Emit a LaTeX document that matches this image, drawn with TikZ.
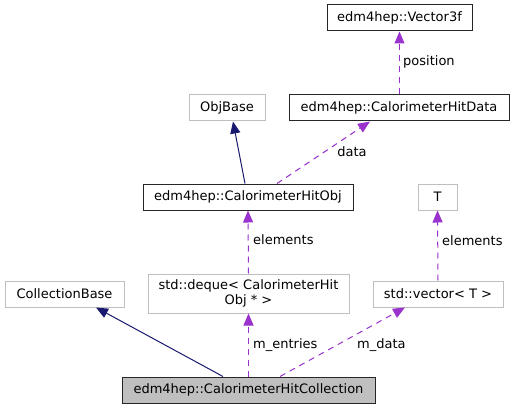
\documentclass[tikz,border=0pt]{standalone}
\usepackage{fontspec}
\setmainfont{DejaVu Sans}
\usetikzlibrary{arrows.meta}
\definecolor{edgenavy}{HTML}{191970}
\definecolor{edgepurple}{HTML}{9A32CD}
\definecolor{boxgray}{HTML}{BFBFBF}
\begin{document}
\begin{tikzpicture}[x=1pt, y=-1pt,
  every node/.style={font=\fontsize{13}{15.5}\selectfont, inner sep=0pt},
  cls/.style={draw=black!85, line width=1pt, minimum height=26pt},
  ext/.style={draw=boxgray, line width=1pt, minimum height=26pt},
  inherit/.style={draw=edgenavy, line width=1pt, -{Triangle[length=12pt,width=10pt]}},
  member/.style={draw=edgepurple, line width=1pt, dash pattern=on 6pt off 5pt,
    -{Triangle[length=12pt,width=10pt,fill=edgepurple]}},
  lbl/.style={anchor=west}]
\useasboundingbox (0,0) rectangle (514,409);

% --- classes ---
\node[cls, minimum width=145pt] (vec3f) at (399.5,18) {edm4hep::Vector3f};
\node[ext, minimum width=76pt] (objbase) at (227,108) {ObjBase};
\node[cls, minimum width=220pt] (hitdata) at (399,108) {edm4hep::CalorimeterHitData};
\node[cls, minimum width=210pt] (hitobj) at (248,197) {edm4hep::CalorimeterHitObj};
\node[ext, minimum width=39pt] (tparam) at (437.5,197) {T};
\node[ext, minimum width=119pt] (collbase) at (64.5,294) {CollectionBase};
\node[ext, minimum width=201pt, minimum height=39pt, align=center] (deque) at (248.5,293.5)
  {std::deque< CalorimeterHit\\Obj * >};
\node[ext, minimum width=130pt] (stdvec) at (438,294) {std::vector< T >};
\node[cls, fill=boxgray, minimum width=253pt] (coll) at (248.5,390)
  {edm4hep::CalorimeterHitCollection};

% --- inheritance ---
\draw[inherit] ([xshift=-25.5pt]coll.north) -- ([xshift=31.5pt]collbase.south);
\draw[inherit] ([xshift=-3pt]hitobj.north) -- ([xshift=6pt]objbase.south);

% --- members ---
\draw[member] (hitdata.north -| vec3f.south) -- (vec3f.south);
\draw[member] ([xshift=29pt]hitobj.north) -- ([xshift=-29pt]hitdata.south);
\draw[member] (deque.north) -- (hitobj.south);
\draw[member] (stdvec.north) -- (tparam.south);
\draw[member] (coll.north) -- (deque.south);
\draw[member] ([xshift=31.5pt]coll.north) -- ([xshift=-33pt]stdvec.south);

\node[lbl] (lposition) at (403,62) {position};
\node (ldata) at (352,152) {data};
\node[lbl] (lelemobj) at (253,240) {elements};
\node[lbl] (lelemt) at (442,241) {elements};
\node[lbl] (lentries) at (253,345) {m\_entries};
\node[lbl] (lmdata) at (357,345) {m\_data};

\end{tikzpicture}
\end{document}
